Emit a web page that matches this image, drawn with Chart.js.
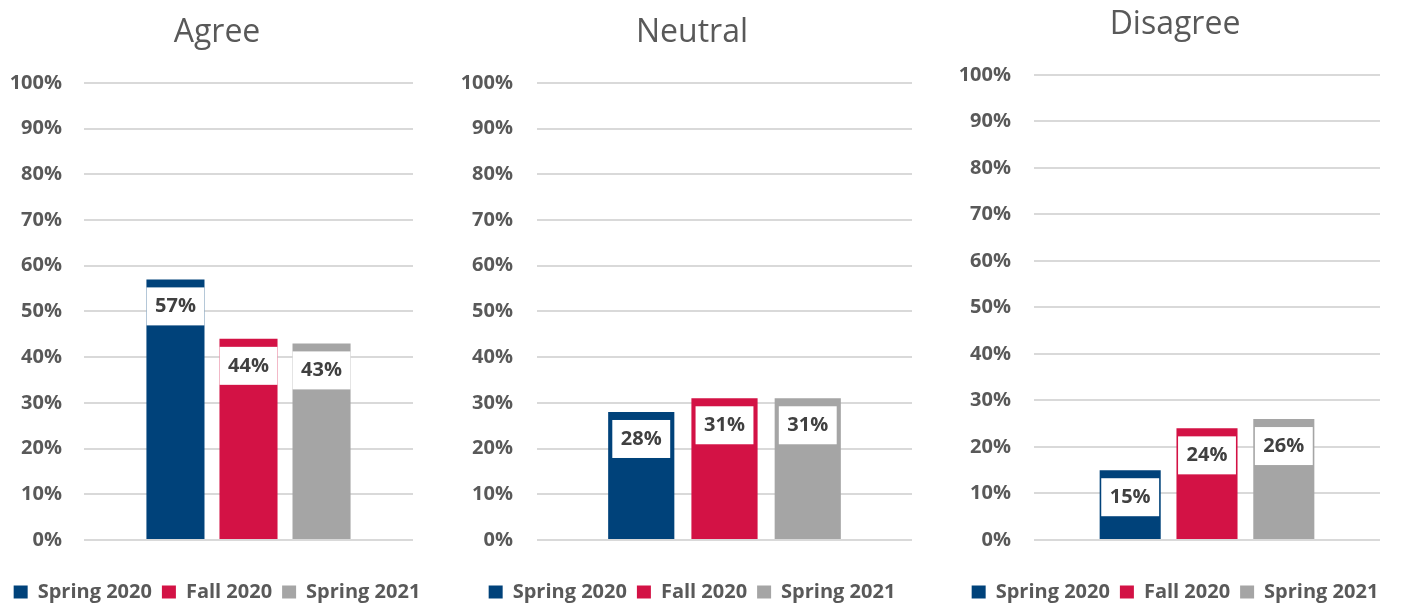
<!DOCTYPE html>
<html><head><meta charset="utf-8">
<script src="https://cdn.jsdelivr.net/npm/chart.js@4.4.1/dist/chart.umd.min.js"></script>
<style>
html,body{margin:0;padding:0;background:#fff;width:1405px;height:604px;overflow:hidden;}
canvas{position:absolute;top:0;}
</style></head><body>
<canvas id="c1" width="434" height="604" style="left:0px"></canvas>
<canvas id="c2" width="484" height="604" style="left:450px"></canvas>
<canvas id="c3" width="450" height="604" style="left:950px"></canvas>
<script>
// ---- data ----
const periods = ['Spring 2020', 'Fall 2020', 'Spring 2021'];
const agreeValues = [57, 44, 43];
const neutralValues = [28, 31, 31];
const disagreeValues = [15, 24, 26];
const tickLabels = ['0%','10%','20%','30%','40%','50%','60%','70%','80%','90%','100%'];
const panelTitles = ['Agree', 'Neutral', 'Disagree'];

// ---- styles ----
const colors = ['#00427A', '#D31245', '#A5A5A5'];
const FONT = '"Open Sans"';
const textGray = '#595959';

const boxLabels = {
  id: 'boxLabels',
  afterDatasetsDraw(chart) {
    const ctx = chart.ctx;
    ctx.save();
    ctx.font = 'bold 20px ' + FONT;
    chart.data.datasets.forEach((ds, i) => {
      const meta = chart.getDatasetMeta(i);
      meta.data.forEach((bar, j) => {
        const txt = ds.data[j] + '%';
        const tw = ctx.measureText(txt).width;
        const w = Math.min(bar.width + 1, tw + 17);
        const h = 38;
        const top = bar.y + 8;
        ctx.fillStyle = '#ffffff';
        ctx.fillRect(bar.x - w / 2, top, w, h);
        ctx.fillStyle = '#404040';
        ctx.textAlign = 'center';
        ctx.textBaseline = 'middle';
        ctx.fillText(txt, bar.x, top + h / 2);
      });
    });
    ctx.restore();
  }
};

function makeChart(id, title, values, cfg) {
  return new Chart(document.getElementById(id), {
    type: 'bar',
    data: {
      labels: [''],
      datasets: periods.map((p, i) => ({
        label: p,
        data: [values[i]],
        backgroundColor: colors[i],
        borderWidth: 0,
        categoryPercentage: 0.666,
        barPercentage: 0.795
      }))
    },
    options: {
      responsive: false,
      animation: false,
      layout: { padding: { left: 0, right: 0, top: 0, bottom: -8 } },
      plugins: {
        title: {
          display: true, text: title, color: textGray,
          font: { family: FONT, size: 32, weight: 'normal', lineHeight: 1.2 },
          padding: { top: cfg.titleTop, bottom: cfg.titleBottom }
        },
        legend: {
          position: 'bottom',
          labels: {
            color: textGray, boxWidth: 14, boxHeight: 13, padding: 10,
            font: { family: FONT, size: 20, weight: 'bold' }
          }
        },
        tooltip: { enabled: false }
      },
      scales: {
        x: {
          display: true,
          ticks: { display: false },
          grid: { display: false },
          border: { display: false },
          afterFit: (s) => { s.height = 32; }
        },
        y: {
          min: 0, max: 100,
          ticks: {
            stepSize: 10, padding: cfg.tickPad, color: textGray,
            font: { family: FONT, size: 20, weight: 'bold' },
            callback: (v) => tickLabels[Math.round(v / 10)]
          },
          grid: { color: '#D9D9D9', lineWidth: 2, drawTicks: false },
          border: { display: false },
          afterFit: (s) => { s.width = cfg.axisW; }
        },
        spacer: {
          type: 'linear',
          position: 'right',
          display: true,
          ticks: { display: false },
          grid: { display: false, drawTicks: false },
          border: { display: false },
          afterFit: (s) => { s.width = cfg.right; }
        }
      }
    },
    plugins: [boxLabels]
  });
}

function build() {
  makeChart('c1', panelTitles[0], agreeValues, { right: 21, titleTop: 14, titleBottom: 30.4, tickPad: 22, axisW: 84 });
  makeChart('c2', panelTitles[1], neutralValues, { right: 22, titleTop: 14, titleBottom: 30.4, tickPad: 24, axisW: 87 });
  makeChart('c3', panelTitles[2], disagreeValues, { right: 20, titleTop: 6, titleBottom: 30.4, tickPad: 23, axisW: 84 });
}
Promise.all([
  document.fonts.load('bold 20px "Open Sans"'),
  document.fonts.load('32px "Open Sans"')
]).then(build, build);
</script>
</body></html>
